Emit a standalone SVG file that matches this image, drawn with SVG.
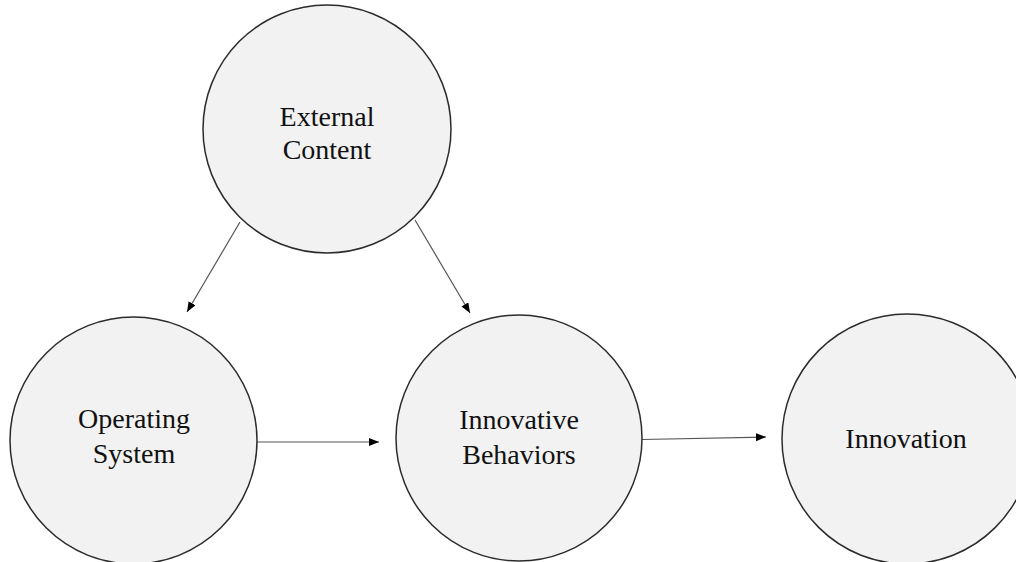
<svg xmlns="http://www.w3.org/2000/svg" width="1016" height="562" viewBox="0 0 1016 562">
<style>
.node circle{fill:#f2f2f2;stroke:#2b2b2b;stroke-width:1.5}
.node text{font-family:"Liberation Serif","Times New Roman",serif;font-size:28px;fill:#111;text-anchor:middle}
.conn line{stroke:#555;stroke-width:1.2;marker-end:url(#ah)}
</style>
<defs>
<marker id="ah" markerUnits="userSpaceOnUse" markerWidth="11" markerHeight="9" refX="10" refY="4" orient="auto">
<path d="M0,0 L10,4 L0,8 z" fill="#000"/>
</marker>
</defs>
<rect width="1016" height="562" fill="#fff"/>
<g id="connectors" class="conn">
<line x1="240" y1="222" x2="187" y2="312"/>
<line x1="415" y1="220" x2="470" y2="313"/>
<line x1="257" y1="442" x2="379" y2="442"/>
<line x1="642" y1="439.5" x2="766" y2="437"/>
</g>
<g id="external-content" class="node">
<circle cx="327" cy="129" r="124"/>
<text x="327" y="126">External</text>
<text x="327" y="159">Content</text>
</g>
<g id="operating-system" class="node">
<circle cx="133.5" cy="440.5" r="123.5"/>
<text x="134" y="428">Operating</text>
<text x="134" y="463">System</text>
</g>
<g id="innovative-behaviors" class="node">
<circle cx="519" cy="438" r="123"/>
<text x="519" y="429">Innovative</text>
<text x="519" y="464">Behaviors</text>
</g>
<g id="innovation" class="node">
<circle cx="907" cy="439" r="125"/>
<text x="906" y="448">Innovation</text>
</g>
</svg>
